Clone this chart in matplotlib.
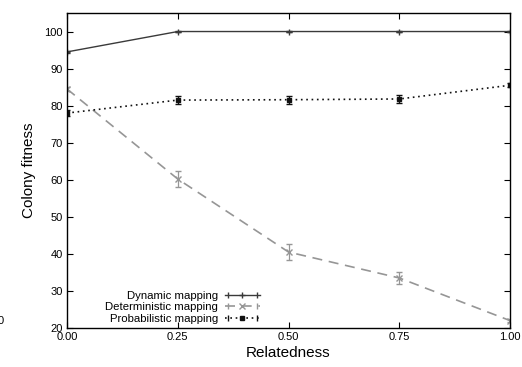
import matplotlib
matplotlib.use('Agg')
import matplotlib.pyplot as plt
from matplotlib.lines import Line2D
from matplotlib.legend_handler import HandlerLine2D, HandlerTuple

plt.rcParams['font.family'] = ['Liberation Sans', 'DejaVu Sans']

# data
relatedness = [0.0, 0.25, 0.5, 0.75, 1.0]
dynamic = [94.5, 100.0, 100.0, 100.0, 100.0]
dynamic_err = [0.3, 0.2, 0.2, 0.2, 0.2]
deterministic = [84.5, 60.2, 40.5, 33.5, 22.0]
deterministic_err = [0.5, 2.2, 2.2, 1.7, 0.4]
probabilistic = [78.0, 81.5, 81.6, 81.8, 85.5]
probabilistic_err = [0.9, 1.1, 1.1, 1.1, 0.6]

names = ['Dynamic mapping', 'Deterministic mapping', 'Probabilistic mapping']
styles = [
    dict(color='#3a3a3a', lw=1.0, ls='-', marker='+', ms=4, mew=1.0),
    dict(color='#969696', lw=1.2, ls=(0, (6, 4)), marker='x', ms=4, mew=1.0),
    dict(color='#111111', lw=1.2, ls=(0, (1, 2.2)), marker='s', ms=3.5, mew=1.0),
]

fig = plt.figure(figsize=(5.22, 3.67), dpi=100)
ax = fig.add_axes([67 / 522, 1 - 328 / 367, (510 - 67) / 522, (328 - 13) / 367])

series = [(dynamic, dynamic_err), (deterministic, deterministic_err),
          (probabilistic, probabilistic_err)]
handles = []
hmap = {}
for (vals, err), st, name in zip(series, styles, names):
    ax.errorbar(relatedness, vals, yerr=err, capsize=2, elinewidth=0.9, **st)
    # gnuplot style key: line with end caps and a marker in the middle
    main = Line2D([], [], **st)
    caps = Line2D([], [], color=st['color'], ls='none', marker='|', ms=5, mew=1.0)
    hmap[caps] = HandlerLine2D(numpoints=2)
    handles.append((main, caps))

ax.set_xlim(0, 1)
ax.set_ylim(20, 105)
ax.set_xticks(relatedness)
ax.set_xticklabels(['0.00', '0.25', '0.50', '0.75', '1.00'])
ax.set_yticks(range(20, 101, 10))
ax.tick_params(direction='in', top=True, right=True, length=4, width=0.8,
               labelsize=8, pad=3)
for s in ax.spines.values():
    s.set_linewidth(1.0)

ax.set_xlabel('Relatedness', fontsize=11, labelpad=3)
ax.set_ylabel('Colony fitness', fontsize=11, labelpad=6)

hmap[tuple] = HandlerTuple(ndivide=1, pad=0)
ax.legend(handles, names, handler_map=hmap, loc='lower left',
          bbox_to_anchor=(0.068, -0.012), frameon=False, markerfirst=False,
          fontsize=8.2, handlelength=3.1, handletextpad=0.6,
          labelspacing=0.13, borderpad=0.2)

fig.text(-0.005, 1 - 321 / 367, '0', fontsize=8, ha='left', va='center')

fig.savefig('out.png', dpi=100)
